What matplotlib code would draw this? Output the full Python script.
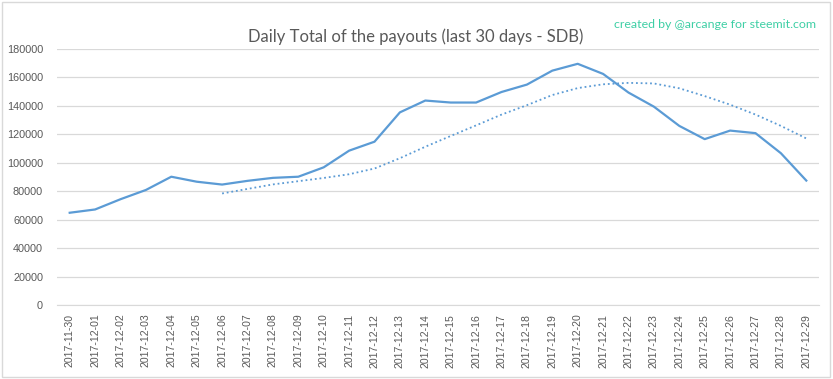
import matplotlib
matplotlib.use("Agg")
import matplotlib.pyplot as plt
import numpy as np
import pandas as pd
from matplotlib.patches import Rectangle

# Daily payout totals (SDB)
dates = ["2017-11-30", "2017-12-01", "2017-12-02", "2017-12-03", "2017-12-04",
         "2017-12-05", "2017-12-06", "2017-12-07", "2017-12-08", "2017-12-09",
         "2017-12-10", "2017-12-11", "2017-12-12", "2017-12-13", "2017-12-14",
         "2017-12-15", "2017-12-16", "2017-12-17", "2017-12-18", "2017-12-19",
         "2017-12-20", "2017-12-21", "2017-12-22", "2017-12-23", "2017-12-24",
         "2017-12-25", "2017-12-26", "2017-12-27", "2017-12-28", "2017-12-29"]
payouts = [65000, 67300, 74500, 81000, 90300, 86800, 84800, 87400, 89500, 90300,
           96900, 108600, 114900, 135500, 143800, 142400, 142400, 149800, 155000, 164800,
           169600, 162500, 149400, 139500, 126000, 116700, 122700, 120900, 106800, 87600]
yticks = [0, 20000, 40000, 60000, 80000, 100000, 120000, 140000, 160000, 180000]

BLUE = "#5B9BD5"
GREY = "#595959"

# Excel-style 7-period moving average trendline
trend = pd.Series(payouts).rolling(7).mean()

fig = plt.figure(figsize=(8.33, 3.79), dpi=100)
ax = fig.add_axes([57 / 833, 1 - 305.3 / 379, 762 / 833, 256.3 / 379])

x = np.arange(len(dates))
ax.plot(x, payouts, color=BLUE, lw=1.6, solid_joinstyle="round")
ax.plot(x, trend, color=BLUE, lw=1.3, linestyle=(0, (1, 1.6)))

ax.set_xlim(-0.5, len(dates) - 0.5)
ax.set_ylim(0, 180000)
ax.set_yticks(yticks)
ax.set_yticklabels([str(v) for v in yticks], fontsize=7.8, color=GREY, family="Liberation Sans")
ax.set_xticks(x)
ax.set_xticklabels(dates, rotation=90, fontsize=7.6, color=GREY, family="Liberation Sans")
ax.tick_params(axis="y", length=0, pad=10)
ax.tick_params(axis="x", length=0, pad=6)
ax.grid(axis="y", color="#D9D9D9", lw=0.9)
ax.set_axisbelow(True)
for side in ("top", "right", "left"):
    ax.spines[side].set_visible(False)
ax.spines["bottom"].set_color("#D9D9D9")

fig.text(416 / 833, 1 - 37 / 379, "Daily Total of the payouts (last 30 days - SDB)",
         ha="center", va="center", fontsize=12, color=GREY, family="Lato")
fig.text(715 / 833, 1 - 24 / 379, "created by @arcange for steemit.com",
         ha="center", va="center", fontsize=8.9, color="#3ECFA5", family="Lato")

fig.patches.append(Rectangle((2 / 833, 2 / 379), 828 / 833, 375 / 379,
                             transform=fig.transFigure, fill=False,
                             edgecolor="#D9D9D9", lw=1))

fig.savefig("out.png", dpi=100)
